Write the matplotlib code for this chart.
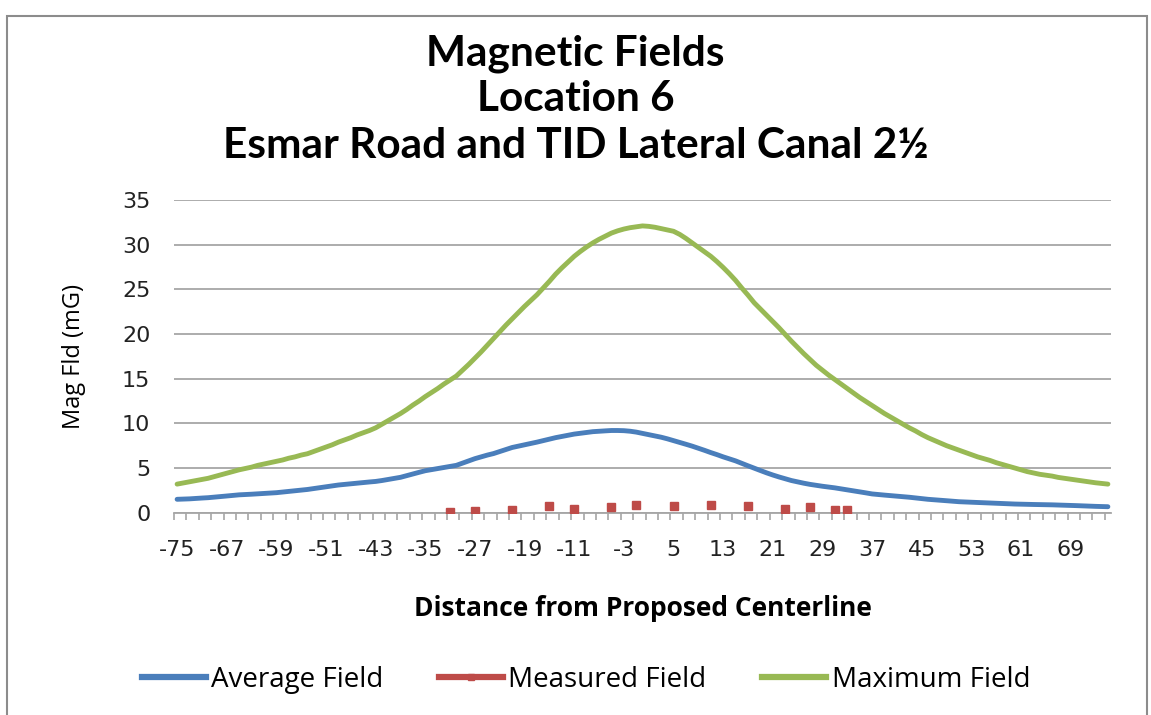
import numpy as np
import matplotlib
matplotlib.use("Agg")
import matplotlib.pyplot as plt
from matplotlib.lines import Line2D
from matplotlib.patches import Rectangle

# distance categories -75 .. 75
distance = list(range(-75, 76))

average_field = [
    1.50, 1.52, 1.55, 1.60, 1.64, 1.68, 1.74, 1.80, 1.87, 1.94,
    2.00, 2.03, 2.07, 2.11, 2.15, 2.19, 2.24, 2.31, 2.38, 2.45,
    2.52, 2.60, 2.70, 2.80, 2.90, 3.00, 3.10, 3.17, 3.24, 3.31,
    3.38, 3.44, 3.50, 3.60, 3.72, 3.84, 3.96, 4.15, 4.35, 4.52,
    4.70, 4.82, 4.94, 5.06, 5.18, 5.30, 5.55, 5.80, 6.05, 6.25,
    6.45, 6.62, 6.85, 7.07, 7.30, 7.45, 7.60, 7.75, 7.90, 8.07,
    8.24, 8.40, 8.53, 8.67, 8.80, 8.89, 8.98, 9.07, 9.12, 9.16,
    9.20, 9.20, 9.18, 9.12, 9.02, 8.88, 8.75, 8.60, 8.45, 8.27,
    8.07, 7.87, 7.66, 7.45, 7.22, 6.98, 6.73, 6.50, 6.25, 6.02,
    5.80, 5.52, 5.25, 4.98, 4.72, 4.46, 4.22, 4.00, 3.80, 3.60,
    3.45, 3.30, 3.17, 3.06, 2.96, 2.87, 2.78, 2.67, 2.56, 2.46,
    2.34, 2.22, 2.10, 2.03, 1.97, 1.91, 1.86, 1.80, 1.73, 1.65,
    1.57, 1.50, 1.45, 1.39, 1.34, 1.28, 1.23, 1.20, 1.16, 1.13,
    1.10, 1.07, 1.04, 1.02, 1.00, 0.97, 0.95, 0.93, 0.92, 0.91,
    0.89, 0.88, 0.86, 0.84, 0.81, 0.79, 0.76, 0.73, 0.71, 0.69,
    0.67,
]

maximum_field = [
    3.20, 3.33, 3.46, 3.59, 3.72, 3.85, 4.04, 4.23, 4.42, 4.61,
    4.80, 4.95, 5.10, 5.30, 5.45, 5.60, 5.75, 5.90, 6.10, 6.25,
    6.45, 6.60, 6.85, 7.10, 7.35, 7.60, 7.90, 8.15, 8.40, 8.70,
    8.95, 9.20, 9.50, 9.90, 10.30, 10.70, 11.10, 11.55, 12.05, 12.50,
    13.00, 13.45, 13.90, 14.40, 14.85, 15.30, 15.95, 16.60, 17.30, 18.00,
    18.75, 19.50, 20.25, 21.00, 21.70, 22.40, 23.10, 23.75, 24.40, 25.15,
    25.90, 26.70, 27.40, 28.05, 28.70, 29.25, 29.75, 30.20, 30.60, 30.95,
    31.30, 31.55, 31.75, 31.90, 32.00, 32.10, 32.05, 31.95, 31.80, 31.65,
    31.50, 31.15, 30.70, 30.20, 29.70, 29.20, 28.70, 28.10, 27.45, 26.75,
    26.00, 25.15, 24.35, 23.50, 22.80, 22.10, 21.40, 20.70, 19.95, 19.20,
    18.50, 17.80, 17.15, 16.50, 15.95, 15.40, 14.90, 14.40, 13.90, 13.40,
    12.90, 12.45, 12.00, 11.55, 11.10, 10.70, 10.30, 9.90, 9.50, 9.15,
    8.75, 8.40, 8.10, 7.80, 7.50, 7.25, 7.00, 6.75, 6.50, 6.25,
    6.05, 5.85, 5.60, 5.40, 5.20, 5.00, 4.80, 4.60, 4.45, 4.30,
    4.20, 4.10, 3.95, 3.85, 3.75, 3.65, 3.55, 3.45, 3.35, 3.28,
    3.20,
]

measured_x = [-31, -27, -21, -15, -11, -5, -1, 5, 11, 17, 23, 27, 31, 33]
measured_y = [0.10, 0.15, 0.30, 0.75, 0.40, 0.60, 0.86, 0.75, 0.86, 0.75, 0.45, 0.60, 0.30, 0.30]

blue = "#4a7ebb"
red = "#be4b48"
green = "#98b954"
grid_grey = "#a6a6a6"

fig = plt.figure(figsize=(11.51, 7.15), dpi=100)
ax = fig.add_axes([174 / 1151, 1 - 512.7 / 715, 937 / 1151, 312.7 / 715])

idx = np.arange(len(distance))
ax.plot(idx, maximum_field, color=green, lw=3.5, solid_capstyle="round", zorder=3)
ax.plot(idx, average_field, color=blue, lw=3.5, solid_capstyle="round", zorder=3)
mpos = [distance.index(v) for v in measured_x]
ax.plot(mpos, measured_y, ls="none", marker="s", ms=5.5, color=red, zorder=4)

ax.set_xlim(-0.5, len(distance) - 0.5)
ax.set_ylim(0, 35)
ax.set_yticks(range(0, 36, 5))
ax.yaxis.grid(True, color=grid_grey, lw=1.3)
ax.set_axisbelow(True)

lab_pos = list(range(0, len(distance), 8))
ax.set_xticks(lab_pos)
ax.set_xticklabels([str(distance[i]) for i in lab_pos])
ax.set_xticks(np.arange(-0.5, len(distance), 2), minor=True)
ax.tick_params(axis="x", which="major", length=0, pad=20, labelsize=16, colors="#222222")
ax.tick_params(axis="x", which="minor", length=5, width=1.2, color=grid_grey, direction="out")
ax.tick_params(axis="y", length=0, pad=17, labelsize=16, colors="#222222")

for s in ["top", "right", "left"]:
    ax.spines[s].set_visible(False)
ax.spines["bottom"].set_color(grid_grey)
ax.spines["bottom"].set_linewidth(1.3)

ax.set_xlabel("Distance from Proposed Centerline", fontsize=19, fontweight="bold",
              family="Open Sans", labelpad=25)
ax.set_ylabel("Mag Fld (mG)", fontsize=17, family="Open Sans", labelpad=26)

title_lines = ["Magnetic Fields", "Location 6", "Esmar Road and TID Lateral Canal 2½"]
for line, ypx in zip(title_lines, [54, 99, 146]):
    fig.text(0.5, 1 - ypx / 715, line, ha="center", va="center",
             fontsize=30.5, fontweight="bold", family="Lato")

handles = [
    Line2D([], [], color=blue, lw=4.5),
    Line2D([], [], color=red, lw=4.5, marker="s", ms=4, markevery=[1]),
    Line2D([], [], color=green, lw=4.5),
]
fig.legend(handles, ["Average Field", "Measured Field", "Maximum Field"],
           loc="center", bbox_to_anchor=(0.509, 1 - 680 / 715), ncol=3, frameon=False,
           prop={"family": "Open Sans", "size": 20}, handlelength=2.3,
           handletextpad=0.2, columnspacing=2.0)

fig.patches.append(Rectangle((7 / 1151, -0.02), 1140 / 1151, 1 - 16 / 715 + 0.02,
                             transform=fig.transFigure, fill=False,
                             edgecolor="#8c8c8c", lw=1.5))

fig.savefig("out.png", dpi=100)
